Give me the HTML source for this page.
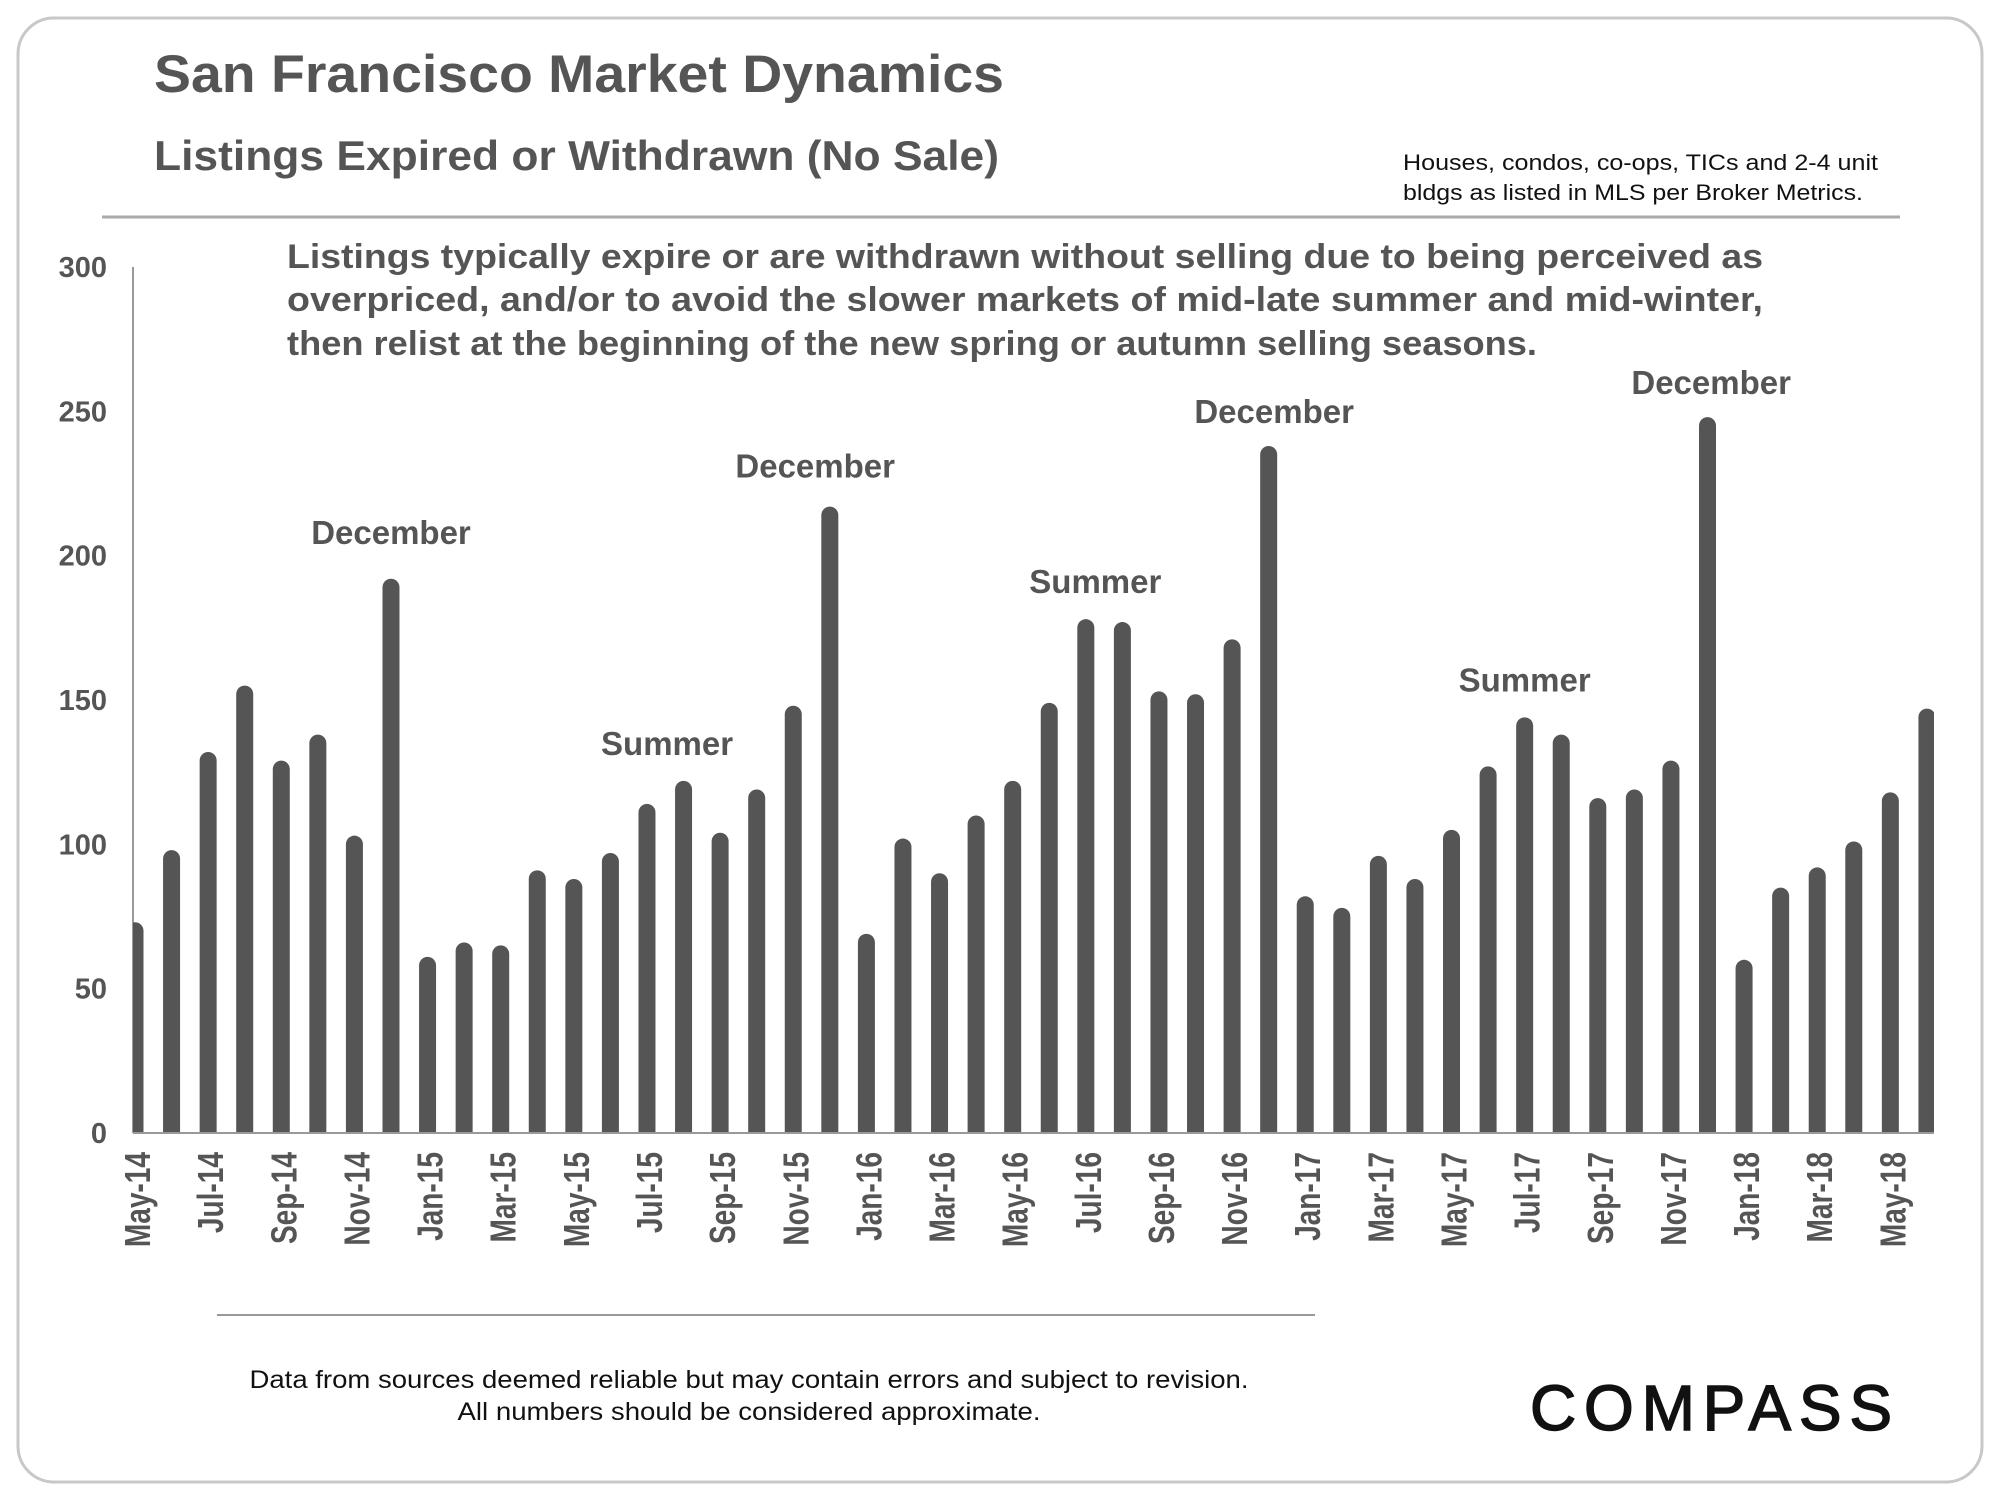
<!DOCTYPE html>
<html><head><meta charset="utf-8"><style>
html,body{margin:0;padding:0;background:#fff;}
svg{display:block;font-family:"Liberation Sans",Arial,sans-serif;}
</style></head><body>
<svg id="chart" width="2000" height="1500" viewBox="0 0 2000 1500">
<rect x="18" y="18" width="1964" height="1464" rx="36" fill="#fff" stroke="#c8c8c8" stroke-width="3"/>
<text x="154" y="92" font-size="53" font-weight="bold" fill="#555" textLength="850" lengthAdjust="spacingAndGlyphs">San Francisco Market Dynamics</text>
<text x="154" y="170" font-size="42" font-weight="bold" fill="#555" textLength="845" lengthAdjust="spacingAndGlyphs">Listings Expired or Withdrawn (No Sale)</text>
<text x="1403" y="170" font-size="22" fill="#111" textLength="475" lengthAdjust="spacingAndGlyphs">Houses, condos, co-ops, TICs and 2-4 unit</text>
<text x="1403" y="200" font-size="22" fill="#111" textLength="460" lengthAdjust="spacingAndGlyphs">bldgs as listed in MLS per Broker Metrics.</text>
<line x1="102" y1="217" x2="1900" y2="217" stroke="#aaa" stroke-width="3"/>
<g font-size="34" font-weight="bold" fill="#555">
<text x="287" y="268" textLength="1476" lengthAdjust="spacingAndGlyphs">Listings typically expire or are withdrawn without selling due to being perceived as</text>
<text x="287" y="311" textLength="1476" lengthAdjust="spacingAndGlyphs">overpriced, and/or to avoid the slower markets of mid-late summer and mid-winter,</text>
<text x="287" y="355" textLength="1250" lengthAdjust="spacingAndGlyphs">then relist at the beginning of the new spring or autumn selling seasons.</text>
</g>
<g id="plot"></g>
<line x1="217" y1="1315" x2="1315" y2="1315" stroke="#999" stroke-width="2"/>
<text x="749" y="1388" font-size="25" fill="#111" text-anchor="middle" textLength="999" lengthAdjust="spacingAndGlyphs">Data from sources deemed reliable but may contain errors and subject to revision.</text>
<text x="749" y="1420" font-size="25" fill="#111" text-anchor="middle" textLength="583" lengthAdjust="spacingAndGlyphs">All numbers should be considered approximate.</text>
<text x="1530" y="1430" font-size="64" fill="#111" stroke="#111" stroke-width="1.5" textLength="362" lengthAdjust="spacing">COMPASS</text>
</svg>
<script>
var categories = ["May-14","Jun-14","Jul-14","Aug-14","Sep-14","Oct-14","Nov-14","Dec-14",
"Jan-15","Feb-15","Mar-15","Apr-15","May-15","Jun-15","Jul-15","Aug-15","Sep-15","Oct-15","Nov-15","Dec-15",
"Jan-16","Feb-16","Mar-16","Apr-16","May-16","Jun-16","Jul-16","Aug-16","Sep-16","Oct-16","Nov-16","Dec-16",
"Jan-17","Feb-17","Mar-17","Apr-17","May-17","Jun-17","Jul-17","Aug-17","Sep-17","Oct-17","Nov-17","Dec-17",
"Jan-18","Feb-18","Mar-18","Apr-18","May-18","Jun-18"];
var values = [73,98,132,155,129,138,103,192,
61,66,65,91,88,97,114,122,104,119,148,217,
69,102,90,110,122,149,178,177,153,152,171,238,
82,78,96,88,105,127,144,138,116,119,129,248,
60,85,92,101,118,147];
var yTicks = [0,50,100,150,200,250,300];
var annotationText = ["December","December","December","December","Summer","Summer","Summer"];
var annotationAt = ["Dec-14","Dec-15","Dec-16","Dec-17","Jul-15","Jul-16","Jul-17"];
var annotationOffset = [0,-0.4,0.15,0.1,0.55,0.26,0];
var annotationValue = [204,227,246,256,131,187,153];

var NS = "http://www.w3.org/2000/svg";
var plot = document.getElementById("plot");
var X0 = 133, X1 = 1934, Y0 = 1133, YTOP = 267, YMAX = 300;
var step = 36.57, firstCenter = 135, barW = 17;
function xPos(i){ return firstCenter + i*step; }
function yPos(v){ return Y0 - (v/YMAX)*(Y0-YTOP); }
function mk(tag, attrs){ var e = document.createElementNS(NS, tag); for (var k in attrs) e.setAttribute(k, attrs[k]); return e; }

var defs = mk("defs", {});
var cp = mk("clipPath", {id:"clip"});
cp.appendChild(mk("rect", {x:X0, y:0, width:X1-X0, height:1500}));
defs.appendChild(cp);
plot.appendChild(defs);

var yAxis = mk("line", {x1:X0, y1:YTOP, x2:X0, y2:Y0, stroke:"#999", "stroke-width":2});


plot.appendChild(yAxis);

yTicks.forEach(function(t){
  var tx = mk("text", {x:107, y:yPos(t)+10, "font-size":29, "font-weight":"bold", fill:"#555", "text-anchor":"end"});
  tx.textContent = t;
  
  
  plot.appendChild(tx);
});

var bars = mk("g", {"clip-path":"url(#clip)"});


plot.appendChild(bars);
values.forEach(function(v, i){
  var x = xPos(i) - barW/2, y = yPos(v);
  var r = mk("path", {d:"M"+x+","+Y0+" V"+(y+barW/2)+" A"+(barW/2)+","+(barW/2)+" 0 0 1 "+(x+barW)+","+(y+barW/2)+" V"+Y0+" Z", fill:"#555"});
  
  
  bars.appendChild(r);
});

var xAxis = mk("line", {x1:X0, y1:Y0, x2:X1, y2:Y0, stroke:"#999", "stroke-width":2});


plot.appendChild(xAxis);

categories.forEach(function(c, i){
  if (i % 2) return;
  var cx = xPos(i) + 2;
  var tx = mk("text", {x:0, y:0, "font-size":36, "font-weight":"bold", fill:"#555", "text-anchor":"end", transform:"translate("+(cx+13)+",1152) rotate(-90) scale(0.78,1)"});
  tx.textContent = c;
  
  
  plot.appendChild(tx);
});

annotationText.forEach(function(a, k){
  var i = categories.indexOf(annotationAt[k]) + annotationOffset[k];
  var tx = mk("text", {x:xPos(i), y:yPos(annotationValue[k]), "font-size":33, "font-weight":"bold", fill:"#555", "text-anchor":"middle"});
  tx.textContent = a;
  
  
  plot.appendChild(tx);
});
</script>
</body></html>
